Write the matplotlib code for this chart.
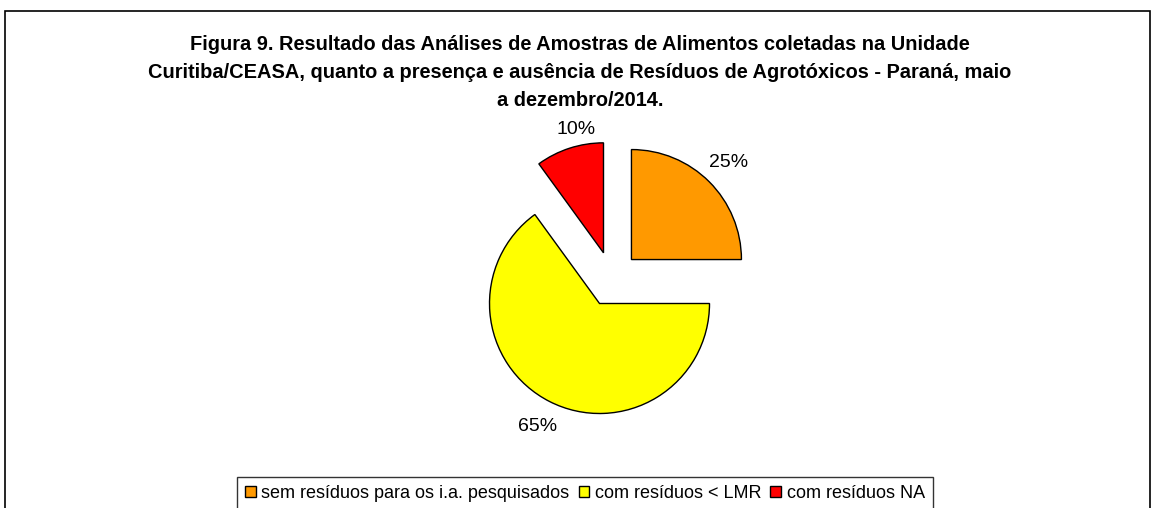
'''Figura 9 - pie chart of residue analysis, Curitiba/CEASA'''
import matplotlib
matplotlib.use("Agg")
import matplotlib.pyplot as plt
from matplotlib.patches import Rectangle
from matplotlib.transforms import offset_copy

labels = ["sem resíduos para os i.a. pesquisados", "com resíduos < LMR", "com resíduos NA"]
values = [25, 65, 10]
colors = ["#FF9900", "#FFFF00", "#FF0000"]
title = ("Figura 9. Resultado das Análises de Amostras de Alimentos coletadas na Unidade\n"
         "Curitiba/CEASA, quanto a presença e ausência de Resíduos de Agrotóxicos - Paraná, maio\n"
         "a dezembro/2014.")


def main():
    plt.rcParams['font.family'] = ['Liberation Sans', 'DejaVu Sans']
    W, H = 1156, 508
    fig = plt.figure(figsize=(W / 100, H / 100), dpi=100)

    # outer chart border (bottom edge runs off the image)
    fig.patches.append(Rectangle((5 / W, -0.1), 1145 / W, 1.1 - 11 / H,
                                 transform=fig.transFigure, fill=False,
                                 edgecolor="black", linewidth=1.2))

    fig.text(580 / W, 1 - 73 / H, title, ha="center", va="center",
             fontsize=14.4, fontweight="bold", linespacing=1.6)

    # pie: radius 110 px, centre at (612, 279) px
    L = 1.6
    side = 2 * L * 110
    ax = fig.add_axes([(612 - side / 2) / W, (H - 279 - side / 2) / H, side / W, side / H])
    wedges, texts = ax.pie(values, colors=colors, startangle=90, counterclock=False,
                           explode=[0.25, 0.25, 0.25],
                           wedgeprops=dict(edgecolor="black", linewidth=1),
                           labels=["%d%%" % v for v in values], labeldistance=1.25)
    for t in texts:
        t.set_fontsize(14)
        t.set_ha("center")
        t.set_va("center")
    # small nudge of the 10% label toward where Excel placed it
    texts[2].set_transform(offset_copy(ax.transData, fig=fig, x=11, y=-5, units="points"))
    ax.set_xlim(-L, L)
    ax.set_ylim(-L, L)
    ax.set_aspect("equal")
    ax.axis("off")

    leg = fig.legend(wedges, labels, loc="upper center",
                     bbox_to_anchor=(585 / W, 1 - 477 / H),
                     ncol=3, frameon=True, fancybox=False, fontsize=13,
                     handlelength=0.6, handleheight=0.6, handletextpad=0.3,
                     columnspacing=0.5, borderpad=0.45, borderaxespad=0)
    leg.get_frame().set_edgecolor("black")
    leg.get_frame().set_linewidth(1)

    fig.savefig("out.png", dpi=100)


if __name__ == "__main__":
    main()
